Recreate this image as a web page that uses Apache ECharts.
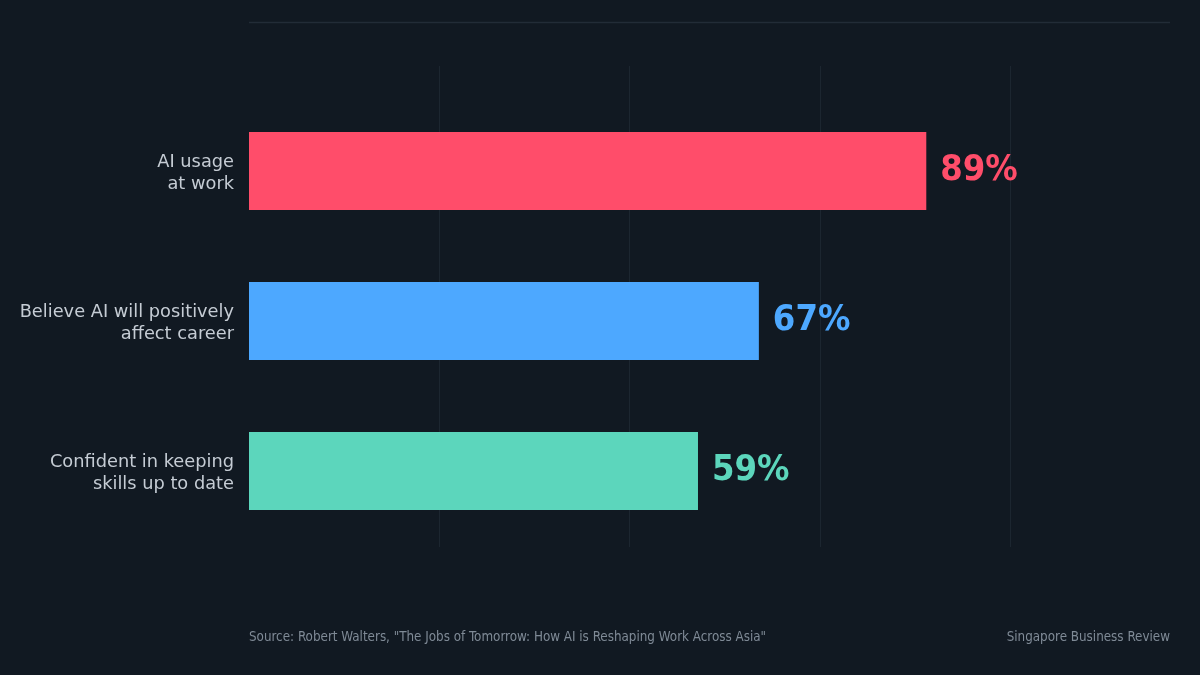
<!DOCTYPE html>
<html>
<head>
<meta charset="utf-8">
<script src="https://cdn.jsdelivr.net/npm/echarts@6/dist/echarts.min.js"></script>
<style>
  html, body { margin: 0; padding: 0; background: #111922; }
  #chart { width: 1200px; height: 675px; }
</style>
</head>
<body>
<div id="chart"></div>
<script>
// data
const categories = ['AI usage\nat work', 'Believe AI will positively\naffect career', 'Confident in keeping\nskills up to date'];
const values = [89, 67, 59];
const barColors = ['#ff4d6a', '#4da8ff', '#5cd6bc'];
const sourceText = 'Source: Robert Walters, "The Jobs of Tomorrow: How AI is Reshaping Work Across Asia"';
const brandText = 'Singapore Business Review';

const font = 'DejaVu Sans';
const condFont = 'DejaVu Sans Condensed';
const gridLineColor = '#1c2630';
const labelStyle = { color: '#c5ccd4', fontSize: 17.8, fontFamily: font, lineHeight: 21.5, align: 'right' };

let myChart = echarts.init(document.getElementById('chart'));
myChart.setOption({
  backgroundColor: '#111922',
  animation: false,
  title: [
    {
      text: sourceText,
      left: 249, top: 631, padding: 0,
      textStyle: { color: '#7f8a96', fontSize: 13.3, fontWeight: 'normal', fontFamily: condFont }
    },
    {
      text: brandText,
      right: 30, top: 631, padding: 0,
      textStyle: { color: '#7f8a96', fontSize: 13.3, fontWeight: 'normal', fontFamily: condFont }
    }
  ],
  graphic: [
    {
      type: 'line',
      shape: { x1: 249, y1: 22.5, x2: 1170, y2: 22.5 },
      style: { stroke: '#222c37', lineWidth: 1.5 }
    }
  ],
  grid: [
    { left: 249, right: 190, top: 96, bottom: 129 },
    // only for the longer vertical guide lines
    { left: 249, right: 190, top: 66, bottom: 128 }
  ],
  xAxis: [
    {
      type: 'value', gridIndex: 0, min: 0, max: 100, interval: 25,
      axisLabel: { show: false }, axisLine: { show: false }, axisTick: { show: false },
      splitLine: { show: false }
    },
    {
      type: 'value', gridIndex: 1, min: 0, max: 100, interval: 25,
      axisLabel: { show: false }, axisLine: { show: false }, axisTick: { show: false },
      splitLine: { show: true, showMinLine: false, lineStyle: { color: gridLineColor, width: 1 } }
    }
  ],
  yAxis: [
    {
      type: 'category', gridIndex: 0, inverse: true, data: categories,
      axisLine: { show: false }, axisTick: { show: false },
      axisLabel: {
        margin: 15,
        align: 'right',
        // small spacer line on top pushes the two text lines a bit lower
        formatter: v => '{s| }\n' + v.split('\n').map(s => '{t|' + s + '}').join('\n'),
        rich: {
          s: { fontSize: 4, lineHeight: 5, align: 'right' },
          t: labelStyle
        }
      }
    },
    {
      type: 'category', gridIndex: 1, data: [''], show: false
    }
  ],
  series: [
    {
      type: 'bar',
      xAxisIndex: 0, yAxisIndex: 0,
      barWidth: 78,
      data: values.map((v, i) => ({
        value: v,
        itemStyle: { color: barColors[i] },
        label: { color: barColors[i] }
      })),
      label: {
        show: true,
        position: 'right',
        distance: 14,
        formatter: '{c}%',
        fontSize: 36,
        fontWeight: 'bold',
        fontFamily: condFont
      }
    }
  ]
});
</script>
</body>
</html>
